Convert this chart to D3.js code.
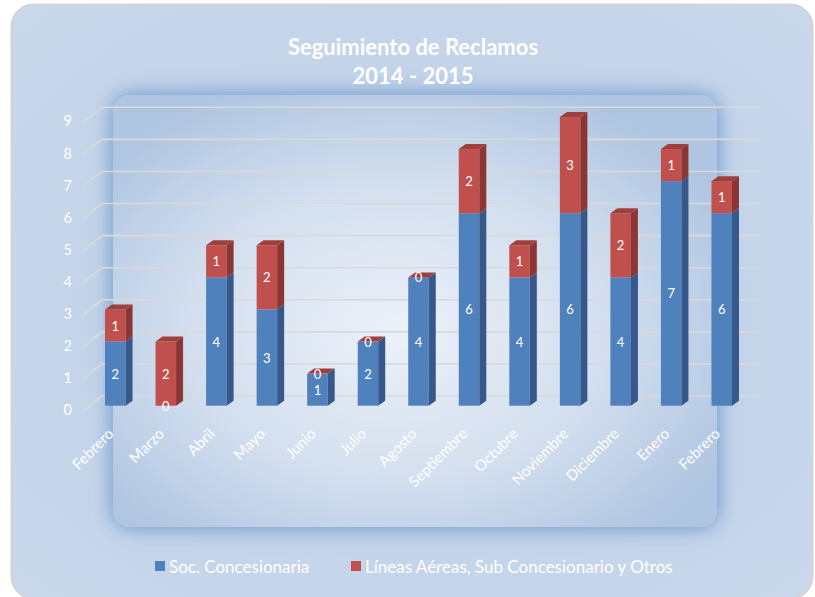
<!DOCTYPE html>
<html><head><meta charset="utf-8">
<script src="https://cdn.jsdelivr.net/npm/d3@7"></script>
<style>
html,body{margin:0;padding:0;background:#fff;}
svg{display:block;font-family:Lato,"Open Sans",sans-serif;}
</style></head>
<body>
<svg id="chart" width="815" height="597"></svg>
<script>
const categories = ["Febrero","Marzo","Abril","Mayo","Junio","Julio","Agosto","Septiembre","Octubre","Noviembre","Diciembre","Enero","Febrero"];
const socConcesionaria = [2,0,4,3,1,2,4,6,4,6,4,7,6];
const lineasAereas = [1,2,1,2,0,0,0,2,1,3,2,1,1];
const yTicks = [0,1,2,3,4,5,6,7,8,9];
const seriesNames = ["Soc. Concesionaria","Líneas Aéreas, Sub Concesionario y Otros"];
const titleLines = ["Seguimiento de Reclamos","2014 - 2015"];

const svg = d3.select("#chart");
const defs = svg.append("defs");

// background gradients
const rg = defs.append("radialGradient").attr("id","innerGrad")
  .attr("cx","0.47").attr("cy","0.55").attr("r","0.62");
rg.append("stop").attr("offset","0%").attr("stop-color","#ecf1f9");
rg.append("stop").attr("offset","55%").attr("stop-color","#d3dfef");
rg.append("stop").attr("offset","100%").attr("stop-color","#b0c5e1");
const og = defs.append("radialGradient").attr("id","outerGrad")
  .attr("cx","0.5").attr("cy","0.5").attr("r","0.7");
og.append("stop").attr("offset","0%").attr("stop-color","#bccfe7");
og.append("stop").attr("offset","100%").attr("stop-color","#c9d8eb");
const blur = defs.append("filter").attr("id","blur").attr("x","-20%").attr("y","-20%").attr("width","140%").attr("height","140%");
blur.append("feGaussianBlur").attr("stdDeviation",11);

svg.append("rect").attr("x",11.5).attr("y",4.5).attr("width",801).attr("height",594)
  .attr("rx",22).attr("fill","url(#outerGrad)").attr("stroke","#d4d4d4").attr("stroke-width",2);

const inner = {x:113,y:95,w:604,h:432};
svg.append("rect").attr("x",inner.x).attr("y",inner.y).attr("width",inner.w).attr("height",inner.h)
  .attr("rx",16).attr("fill","#6590c8").attr("filter","url(#blur)");
svg.append("rect").attr("x",inner.x).attr("y",inner.y).attr("width",inner.w).attr("height",inner.h)
  .attr("rx",16).attr("fill","url(#innerGrad)");

// scales
const x = d3.scaleBand().domain(d3.range(categories.length)).range([75,762]).padding(0.594);
const y = d3.scaleLinear().domain([0,9]).range([405.7, 405.7-9*32.08]);
const depthX = 7, depthY = -5;
const backOff = -9.7, frontOff = 4.3;

// gridlines
const grid = svg.append("g");
yTicks.forEach(v=>{
  grid.append("path")
    .attr("d",`M84,${y(v)+frontOff} L102,${y(v)+backOff} L760,${y(v)+backOff}`)
    .attr("fill","none").attr("stroke","#d9d9d9").attr("stroke-width",1.6);
});

// y axis labels
const yAxis = d3.axisLeft(y).tickValues(yTicks).tickSize(0).tickPadding(0);
const yg = svg.append("g").attr("transform",`translate(72,${frontOff})`).call(yAxis);
yg.select(".domain").remove();
yg.selectAll("text").attr("fill","#ffffff").attr("font-size",14.5).attr("font-family","Lato");

// stacked data
const data = categories.map((c,i)=>({i, a:socConcesionaria[i], b:lineasAereas[i]}));
const colors = {
  blue:{front:"#4f81bd", side:"#36588a", top:"#4672a8"},
  red:{front:"#c0504d", side:"#8c3633", top:"#a0403d"}
};
const bars = svg.append("g");
data.forEach(d=>{
  const x0 = x(d.i), w = x.bandwidth();
  const segs = [
    {lo:0, hi:d.a, c:colors.blue},
    {lo:d.a, hi:d.a+d.b, c:colors.red}
  ];
  segs.forEach(s=>{
    const yt = y(s.hi), yb = y(s.lo);
    if (s.hi > s.lo) {
      bars.append("rect").attr("x",x0).attr("y",yt).attr("width",w).attr("height",yb-yt).attr("fill",s.c.front);
      bars.append("path").attr("d",`M${x0+w},${yb} L${x0+w+depthX},${yb+depthY} L${x0+w+depthX},${yt+depthY} L${x0+w},${yt}Z`).attr("fill",s.c.side);
    }
  });
  const topSeg = segs[1];
  const yt = y(topSeg.hi);
  bars.append("path").attr("d",`M${x0},${yt} L${x0+depthX},${yt+depthY} L${x0+w+depthX},${yt+depthY} L${x0+w},${yt}Z`).attr("fill",topSeg.c.top);
  segs.forEach((s,k)=>{
    const val = k===0 ? d.a : d.b;
    bars.append("text").attr("x",x0+w/2).attr("y",(y(s.lo)+y(s.hi))/2)
      .attr("text-anchor","middle").attr("dominant-baseline","central")
      .attr("fill","#ffffff").attr("font-size",13).attr("font-family","Lato").text(val);
  });
});

// x axis labels
const xAxis = d3.axisBottom(x).tickSize(0).tickPadding(0).tickFormat(i=>categories[i]);
const xg = svg.append("g").attr("transform","translate(0,434)").call(xAxis);
xg.select(".domain").remove();
xg.selectAll("text").attr("fill","#ffffff").attr("font-size",15).attr("font-family","Lato")
  .attr("x",-1).attr("y",0).attr("dy",null).attr("text-anchor","end").attr("transform","rotate(-45)");

// title
svg.append("text").attr("x",413).attr("y",46).attr("text-anchor","middle").attr("dominant-baseline","central")
  .attr("fill","#ffffff").attr("font-weight","bold").attr("font-size",22).text(titleLines[0]);
svg.append("text").attr("x",413).attr("y",75).attr("text-anchor","middle").attr("dominant-baseline","central")
  .attr("fill","#ffffff").attr("font-weight","bold").attr("font-size",22).text(titleLines[1]);

// legend
const legend = svg.append("g");
const legendX = [155, 351];
[colors.blue.front, colors.red.front].forEach((c,k)=>{
  legend.append("rect").attr("x",legendX[k]).attr("y",561).attr("width",10).attr("height",10).attr("fill",c);
  legend.append("text").attr("x",legendX[k]+14).attr("y",566).attr("dominant-baseline","central")
    .attr("fill","#ffffff").attr("font-size",17).text(seriesNames[k]);
});
</script>
</body></html>
